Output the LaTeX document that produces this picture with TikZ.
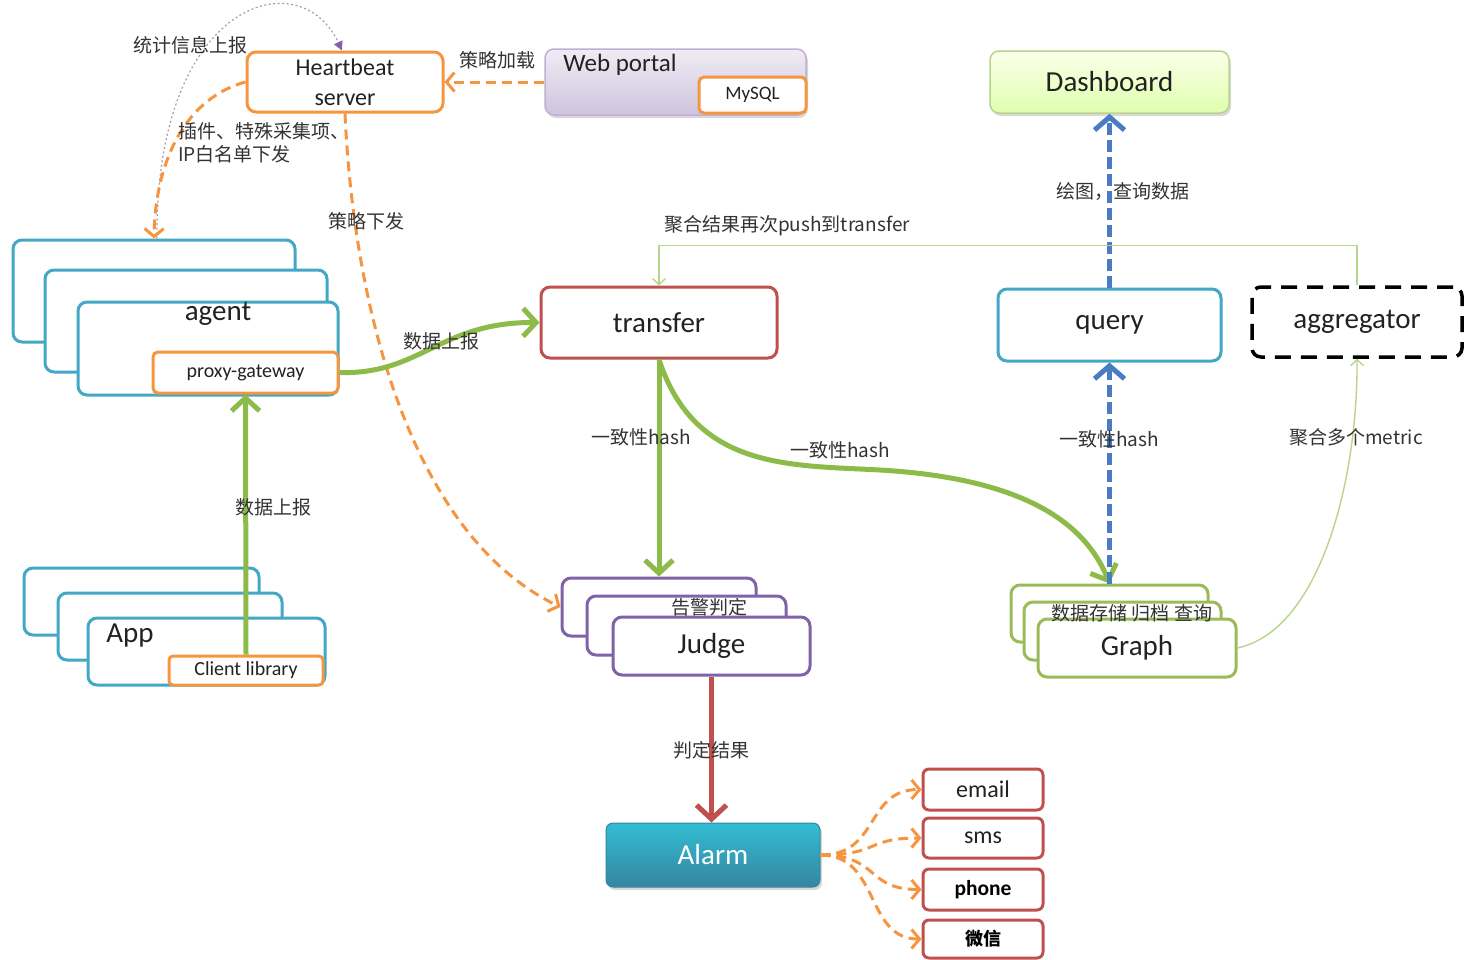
\documentclass[tikz,border=0pt]{standalone}
\usepackage{fontspec}
\setmainfont{Carlito}
\newfontfamily\cjk{Noto Sans CJK SC}
\usetikzlibrary{arrows.meta,shadows}
\definecolor{corng}{HTML}{F59540}
\definecolor{cteal}{HTML}{43A7C6}
\definecolor{cred}{HTML}{C0504D}
\definecolor{cpurp}{HTML}{7F62A8}
\definecolor{cgreen}{HTML}{9BBB59}
\definecolor{cgarrow}{HTML}{8DBB4A}
\definecolor{cblue}{HTML}{4A7CC4}
\definecolor{clgreen}{HTML}{B9D48C}
\definecolor{ctxt}{HTML}{222222}
\definecolor{clab}{HTML}{333333}
\begin{document}
\begin{tikzpicture}[x=1pt,y=-1pt,
  bx/.style={draw, rounded corners=9pt, line width=3pt, fill=white, inner sep=0pt, text=ctxt},
  big/.style={font=\fontsize{29}{31}\selectfont},
  mid/.style={font=\fontsize{24}{29}\selectfont},
  small/.style={font=\fontsize{20}{22}\selectfont},
  lab/.style={font=\cjk\fontsize{19}{21}\selectfont, text=clab, inner sep=1pt},
  odash/.style={draw=corng, line width=3pt, dash pattern=on 10pt off 6pt, -{Straight Barb[length=8pt,width=19pt]}},
  garrow/.style={draw=cgarrow, line width=5pt, -{Straight Barb[length=13pt,width=28pt]}},
  barrow/.style={draw=cblue, line width=5pt, dash pattern=on 12pt off 5pt, -{Straight Barb[length=13pt,width=30pt]}},
  rarrow/.style={draw=cred, line width=5pt, -{Straight Barb[length=14pt,width=30pt]}},
  thin/.style={draw=clgreen, line width=1.4pt, -{Straight Barb[length=6pt,width=13pt]}},
  shd/.style={drop shadow={opacity=0.3, shadow xshift=2pt, shadow yshift=-3pt}}
]
\useasboundingbox[fill=white] (0,0) rectangle (1464,959);

% ---------- top boxes ----------
\node[bx, draw=corng, mid, align=center, minimum width=196, minimum height=60] (hb) at (345,82) {Heartbeat\\[1pt]server};
\node[bx, draw=cpurp!50, line width=1.5pt, top color=cpurp!12, bottom color=cpurp!38, shd, minimum width=261, minimum height=66] (web) at (675.5,82) {};
\node[font=\fontsize{25}{27}\selectfont, text=ctxt] (webt) at (620,65) {Web portal};
\node[bx, draw=corng, rounded corners=5pt, font=\fontsize{19}{21}\selectfont, minimum width=107, minimum height=36] (mysql) at (752.5,95) {MySQL};
\node[bx, draw=clgreen, line width=1.5pt, top color=green!15!yellow!8, bottom color=green!40!yellow!32, shd, big, minimum width=239, minimum height=62] (dash) at (1109.5,82) {Dashboard};

% ---------- agent stack ----------
\node[bx, draw=cteal, minimum width=282, minimum height=102] (agentA) at (154,291) {};
\node[bx, draw=cteal, minimum width=282, minimum height=102] (agentB) at (186,321) {};
\node[bx, draw=cteal, minimum width=260, minimum height=93] (agentC) at (208,348.5) {};
\node[big, text=ctxt] (agentt) at (218,314) {agent};
\node[bx, draw=corng, rounded corners=5pt, small, minimum width=185, minimum height=41] (proxy) at (245.5,372.5) {proxy-gateway};

% ---------- app stack ----------
\node[bx, draw=cteal, minimum width=235, minimum height=67] (appA) at (141.5,601.5) {};
\node[bx, draw=cteal, minimum width=224, minimum height=67] (appB) at (170,626.5) {};
\node[bx, draw=cteal, minimum width=237, minimum height=67] (appC) at (206.5,651.5) {};
\node[big, text=ctxt] (appt) at (130,636) {App};
\node[bx, draw=corng, rounded corners=4pt, small, minimum width=154, minimum height=29] (client) at (246,670.5) {Client library};

% ---------- middle row ----------
\node[bx, draw=cred, big, minimum width=236, minimum height=71] (transfer) at (659,322.5) {transfer};
\node[bx, draw=cteal, big, minimum width=223, minimum height=72] (query) at (1109.5,325) {query};
\node[bx, draw=black, line width=3.5pt, dash pattern=on 16pt off 10pt, big, minimum width=210, minimum height=70] (aggr) at (1357,322) {aggregator};

% ---------- judge stack ----------
\node[bx, draw=cpurp, minimum width=194, minimum height=58] (judgeA) at (659,607) {};
\node[bx, draw=cpurp, minimum width=199, minimum height=59] (judgeB) at (686.5,625.5) {};
\node[bx, draw=cpurp, big, minimum width=197, minimum height=58] (judgeC) at (711.5,646) {Judge};

% ---------- graph stack ----------
\node[bx, draw=cgreen, minimum width=197, minimum height=57] (graphA) at (1109.5,613.5) {};
\node[bx, draw=cgreen, minimum width=197, minimum height=58] (graphB) at (1122.5,631) {};
\node[bx, draw=cgreen, big, minimum width=198, minimum height=58] (graphC) at (1137,648) {Graph};

% ---------- alarm ----------
\node[bx, draw=cteal!80!black, line width=1pt, rounded corners=7pt, top color=cteal!75!cyan, bottom color=cteal!80!black, shd, big, text=white, minimum width=214, minimum height=64] (alarm) at (713,855) {Alarm};
\node[bx, draw=cred, rounded corners=6pt, font=\fontsize{24}{26}\selectfont, minimum width=120, minimum height=41] (email) at (983,789.5) {email};
\node[bx, draw=cred, rounded corners=6pt, font=\fontsize{24}{26}\selectfont, minimum width=120, minimum height=40] (sms) at (983,838) {sms};
\node[bx, draw=cred, rounded corners=6pt, font=\bfseries\fontsize{21.5}{23}\selectfont, text=black, minimum width=120, minimum height=41] (phone) at (983,889.5) {phone};
\node[bx, draw=cred, rounded corners=6pt, font=\cjk\bfseries\fontsize{18}{20}\selectfont, text=black, minimum width=120, minimum height=38] (wx) at (983,939) {微信};

% ---------- connectors ----------
\draw[draw=gray!60!cpurp!70, line width=1.2pt, dash pattern=on 2pt off 2.5pt, -{Triangle[length=9pt,width=9pt,color=cpurp]}]
  ([xshift=3pt]agentA.north) .. controls (155,0) and (300,-40) .. ([xshift=-3pt]hb.north);
\draw[odash] (web.west) -- (hb.east);
\draw[odash] (hb.west) .. controls (180,100) and (155,170) .. (agentA.north);
\draw[odash] (hb.south) .. controls (355,330) and (420,540) .. (judgeA.west);

\draw[garrow] (proxy.east) .. controls (420,375) and (440,322) .. (transfer.west);
\draw[garrow] (client.north) -- (proxy.south);
\draw[garrow] (transfer.south) -- (judgeA.north);
\draw[garrow] (transfer.south) .. controls (695,470) and (790,465) .. (880,470) .. controls (1000,477) and (1080,510) .. (graphA.north);

\draw[barrow] (query.north) -- (dash.south);
\draw[barrow] (graphA.north) -- (query.south);

\draw[rarrow] (judgeC.south) -- (judgeC.south |- alarm.north);

\draw[thin] (aggr.north) -- ++(0,-40) -| (transfer.north);
\draw[thin] (graphC.east) .. controls (1320,630) and (1358,480) .. (aggr.south);

\draw[odash] (alarm.east) .. controls (880,855) and (865,789.5) .. (email.west);
\draw[odash] (alarm.east) .. controls (880,855) and (865,838) .. (sms.west);
\draw[odash] (alarm.east) .. controls (880,855) and (865,889.5) .. (phone.west);
\draw[odash] (alarm.east) .. controls (880,855) and (865,939) .. (wx.west);

% ---------- labels ----------
\node[lab] (l1) at (190,45) {统计信息上报};
\node[lab] (l2) at (497,60) {策略加载};
\node[lab, anchor=north west, align=left, font=\cjk\fontsize{19}{23}\selectfont] (l3) at (177,121) {插件、特殊采集项、\\IP白名单下发};
\node[lab] (l4) at (366,221) {策略下发};
\node[lab] (l5) at (441,341) {数据上报};
\node[lab] (l6) at (273,507) {数据上报};
\node[lab] (l7) at (787,226) {聚合结果再次push到transfer};
\node[lab] (l8) at (1123,192) {绘图，查询数据};
\node[lab] (l9) at (641,437) {一致性hash};
\node[lab] (l10) at (840,450) {一致性hash};
\node[lab] (l11) at (1109,439) {一致性hash};
\node[lab] (l12) at (1356,437) {聚合多个metric};
\node[lab] (l13) at (711,750) {判定结果};
\node[lab] (l14) at (709,607) {告警判定};
\node[lab] (l15) at (1132,613) {数据存储 归档 查询};
\end{tikzpicture}
\end{document}
